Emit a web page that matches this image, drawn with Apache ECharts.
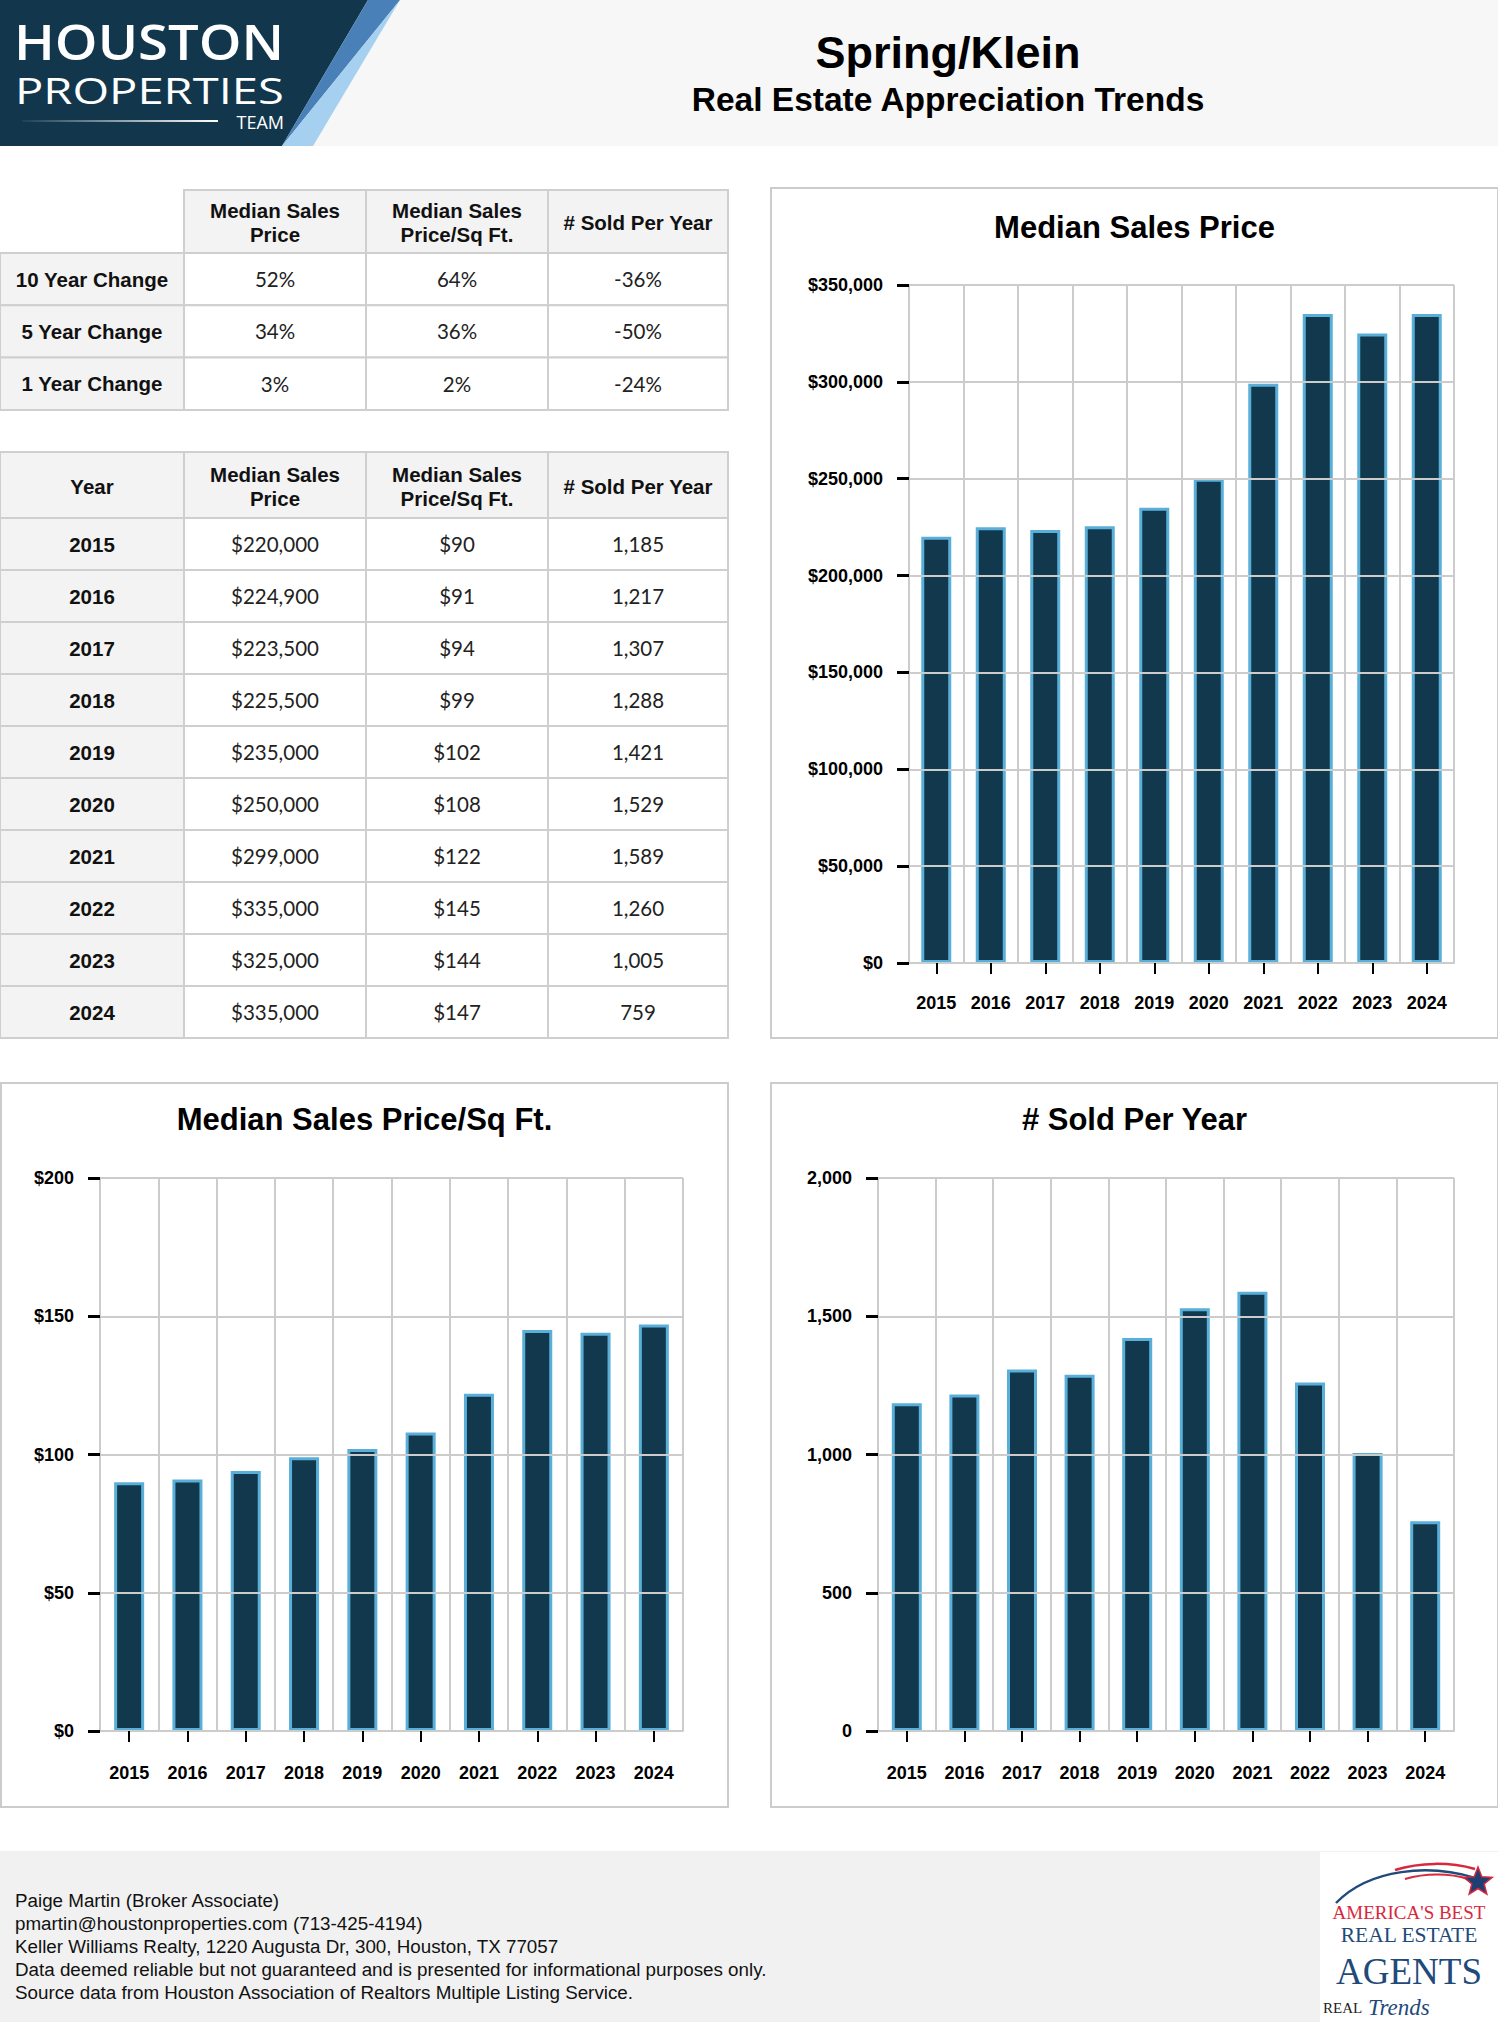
<!DOCTYPE html>
<html>
<head>
<meta charset="utf-8">
<script src="https://cdn.jsdelivr.net/npm/echarts@6/dist/echarts.min.js"></script>
<style>
html,body{margin:0;padding:0;background:#ffffff;}
#main{width:1498px;height:2022px;}
</style>
</head>
<body>
<div id="main"></div>
<script>
// ---------------- DATA ----------------
const years = ['2015','2016','2017','2018','2019','2020','2021','2022','2023','2024'];
const medianPrice = [220000,224900,223500,225500,235000,250000,299000,335000,325000,335000];
const pricePerSqFt = [90,91,94,99,102,108,122,145,144,147];
const soldPerYear = [1185,1217,1307,1288,1421,1529,1589,1260,1005,759];

const changeLabels = ['10 Year Change','5 Year Change','1 Year Change'];
const changeMedianPrice = ['52%','34%','3%'];
const changePricePerSqFt = ['64%','36%','2%'];
const changeSold = ['-36%','-50%','-24%'];

const columnHeaders = ['Median Sales\nPrice','Median Sales\nPrice/Sq Ft.','# Sold Per Year'];
const yearHeader = 'Year';
const chartTitles = ['Median Sales Price','Median Sales Price/Sq Ft.','# Sold Per Year'];

const priceAxis = {min:0, max:350000, interval:50000};
const psfAxis = {min:0, max:200, interval:50};
const soldAxis = {min:0, max:2000, interval:500};

const pageTitle = 'Spring/Klein';
const pageSubtitle = 'Real Estate Appreciation Trends';
const footerLines = [
  'Paige Martin (Broker Associate)',
  'pmartin@houstonproperties.com (713-425-4194)',
  'Keller Williams Realty, 1220 Augusta Dr, 300, Houston, TX 77057',
  'Data deemed reliable but not guaranteed and is presented for informational purposes only.',
  'Source data from Houston Association of Realtors Multiple Listing Service.'
];

// ---------------- HELPERS ----------------
const SANS = '"Liberation Sans", Arial, Helvetica, sans-serif';
const LATO = 'Lato, "Liberation Sans", sans-serif';
const SERIF = '"Liberation Serif", "DejaVu Serif", serif';
const NAVY = '#12384e';
const BARLINE = '#5aafd9';
const GRID = '#cccccc';
const fmtMoney = v => '$' + v.toLocaleString('en-US');
const fmtNum = v => v.toLocaleString('en-US');

const measureCtx = document.createElement('canvas').getContext('2d');
function measure(str, font) { measureCtx.font = font; return measureCtx.measureText(str).width; }

const G = [];
function rect(x, y, w, h, fill, stroke, lw, z) {
  G.push({type:'rect', z: z || 1, shape:{x:x, y:y, width:w, height:h},
    style:{fill: fill, stroke: stroke || null, lineWidth: lw || 0}});
}
function txt(str, x, y, font, fill, align, z, extra, elExtra) {
  G.push(Object.assign({type:'text', z: z || 10, x: x, y: y,
    style: Object.assign({text: str, font: font, fill: fill || '#111',
      textAlign: align || 'center', textVerticalAlign: 'middle',
      align: align || 'center', verticalAlign: 'middle'}, extra || {})}, elExtra || {}));
}
// logo word stretched horizontally to span [x0, x1]
function stretchedWord(word, x0, x1, y, font, fill) {
  const w = measure(word, font) || 1;
  txt(word, x0, y, font, fill, 'left', 5, null, {scaleX: (x1 - x0) / w, scaleY: 1});
}
function poly(points, fill, z) {
  G.push({type:'polygon', z: z || 1, shape:{points: points}, style:{fill: fill}});
}

// ---------------- HEADER ----------------
rect(0, 0, 1498, 146, '#f7f7f7', null, 0, 0);
poly([[0,0],[368,0],[282,146],[0,146]], '#12374c', 2);
poly([[368,0],[400,0],[282,146]], '#4a80b8', 2);
poly([[400,0],[313,146],[282,146]], '#a6d0ef', 2);
stretchedWord('HOUSTON', 14, 284, 41, '600 49px "Open Sans", Lato, sans-serif', '#ffffff');
stretchedWord('PROPERTIES', 15, 284, 90, '400 37px "Open Sans", Lato, sans-serif', '#ffffff');
txt('TEAM', 284, 122, '400 18px "Open Sans", Lato, sans-serif', '#ffffff', 'right', 5);
G.push({type:'rect', z:5, shape:{x:22, y:120, width:196, height:2},
  style:{fill:{type:'linear', x:0, y:0, x2:1, y2:0,
    colorStops:[{offset:0, color:'rgba(255,255,255,0.05)'},{offset:1, color:'rgba(255,255,255,1)'}]}}});
txt(pageTitle, 948, 52, 'bold 45px ' + SANS, '#000');
txt(pageSubtitle, 948, 99, 'bold 33.5px ' + SANS, '#000');

// ---------------- TABLES ----------------
const colX = [0, 184, 366, 548, 728];
const HDR_FONT = 'bold 20.5px ' + SANS;
const VAL_FONT = '20.5px ' + LATO;
const CELL_BG = '#f3f3f3';
const CELL_LINE = '#cfcfcf';

function drawTable(top, headerH, rowH, cornerText, rowLabels, columns) {
  for (let c = 0; c < 4; c++) {
    const x = colX[c], w = colX[c+1] - colX[c];
    if (c === 0 && cornerText === '') continue;
    rect(x, top, w, headerH, CELL_BG, CELL_LINE, 2, 1);
    const t = c === 0 ? cornerText : columnHeaders[c-1];
    txt(t, x + w/2, top + headerH/2 + 1, HDR_FONT, '#111', 'center', 10, {lineHeight: 24});
  }
  for (let r = 0; r < rowLabels.length; r++) {
    const y = top + headerH + r * rowH;
    for (let c = 0; c < 4; c++) {
      const x = colX[c], w = colX[c+1] - colX[c];
      rect(x, y, w, rowH, c === 0 ? CELL_BG : '#ffffff', CELL_LINE, 2, 1);
      if (c === 0) txt(rowLabels[r], x + w/2, y + rowH/2, HDR_FONT, '#111');
      else txt(columns[c-1][r], x + w/2, y + rowH/2, VAL_FONT, '#222');
    }
  }
}
drawTable(190, 63, 52.3, '', changeLabels, [changeMedianPrice, changePricePerSqFt, changeSold]);
drawTable(452, 66, 52, yearHeader, years,
  [medianPrice.map(fmtMoney), pricePerSqFt.map(v => '$' + v), soldPerYear.map(fmtNum)]);

// ---------------- CHART BOXES & TITLES ----------------
const boxes = [[771, 188, 727, 850], [1, 1083, 727, 724], [771, 1083, 727, 724]];
const titleY = [227, 1119, 1119];
boxes.forEach((b, i) => {
  G.push({type:'rect', z:0, shape:{x:b[0], y:b[1], width:b[2], height:b[3]},
    style:{fill:'none', stroke:GRID, lineWidth:2}});
  txt(chartTitles[i], b[0] + b[2]/2, titleY[i], 'bold 31px ' + SANS, '#000');
});

// ---------------- FOOTER ----------------
rect(0, 1851, 1498, 171, '#f1f1f1', null, 0, 0);
footerLines.forEach((l, i) => txt(l, 15, 1900 + i * 23.2, '18.8px ' + SANS, '#111', 'left'));
// award logo
rect(1320, 1852, 178, 170, '#ffffff', null, 0, 1);
G.push({type:'bezierCurve', z:3, shape:{x1:1336, y1:1903, x2:1475, y2:1878, cpx1:1370, cpy1:1868, cpx2:1430, cpy2:1864},
  style:{stroke:'#1f4a7a', lineWidth:2.5, fill:'none'}});
G.push({type:'bezierCurve', z:3, shape:{x1:1395, y1:1870, x2:1475, y2:1869, cpx1:1420, cpy1:1862, cpx2:1450, cpy2:1862},
  style:{stroke:'#d8283d', lineWidth:2.5, fill:'none'}});
G.push({type:'bezierCurve', z:3, shape:{x1:1405, y1:1879, x2:1468, y2:1879, cpx1:1425, cpy1:1873, cpx2:1450, cpy2:1873},
  style:{stroke:'#d8283d', lineWidth:2, fill:'none'}});
(function star(cx, cy, R, r) {
  const pts = [];
  for (let k = 0; k < 10; k++) {
    const a = -Math.PI/2 + k * Math.PI/5, rad = k % 2 ? r : R;
    pts.push([cx + rad * Math.cos(a), cy + rad * Math.sin(a)]);
  }
  G.push({type:'polygon', z:4, shape:{points:pts}, style:{fill:'#1f3f73', stroke:'#d8283d', lineWidth:1.5}});
})(1478, 1882, 15, 6.5);
txt("AMERICA'S BEST", 1409, 1912, '19px ' + SERIF, '#d8283d', 'center', 5);
txt('REAL ESTATE', 1409, 1935, '21.5px ' + SERIF, '#1f4a7a', 'center', 5);
txt('AGENTS', 1409, 1971, '37px ' + SERIF, '#1f4a7a', 'center', 5);
txt('REAL', 1323, 2008, '15px ' + SERIF, '#222', 'left', 5);
txt('Trends', 1368, 2007, 'italic 23px ' + SERIF, '#1f4a7a', 'left', 5);

// ---------------- CHARTS ----------------
const grids = [
  {left:909, top:285, width:545, height:678},
  {left:100, top:1178, width:583, height:553},
  {left:878, top:1178, width:576, height:553}
];
const labelFont = {color:'#000', fontSize:18, fontWeight:'bold', fontFamily:SANS};
function xAx(i, margin) {
  return {type:'category', gridIndex:i, data:years, boundaryGap:true, z:5,
    axisLine:{show:true, lineStyle:{color:GRID, width:2}},
    axisTick:{show:true, alignWithLabel:true, length:11, lineStyle:{color:'#000', width:2}},
    axisLabel:Object.assign({margin:margin, interval:0}, labelFont),
    splitLine:{show:true, interval:0, lineStyle:{color:GRID, width:2}}};
}
function yAx(i, ax, fmt) {
  return {type:'value', gridIndex:i, min:ax.min, max:ax.max, interval:ax.interval, z:5,
    axisLine:{show:true, lineStyle:{color:GRID, width:2}},
    axisTick:{show:true, length:12, lineStyle:{color:'#000', width:3}},
    axisLabel:Object.assign({margin:26, formatter:fmt}, labelFont),
    splitLine:{show:true, lineStyle:{color:GRID, width:2}}};
}
function barSeries(i, data) {
  return {type:'bar', xAxisIndex:i, yAxisIndex:i, data:data, barWidth:30, z:2,
    itemStyle:{color:NAVY, borderColor:BARLINE, borderWidth:3}};
}

const option = {
  animation:false,
  backgroundColor:'#ffffff',
  grid: grids.map(g => Object.assign({show:false}, g)),
  xAxis: [xAx(0, 31), xAx(1, 33), xAx(2, 33)],
  yAxis: [yAx(0, priceAxis, fmtMoney), yAx(1, psfAxis, v => '$' + v), yAx(2, soldAxis, fmtNum)],
  series: [barSeries(0, medianPrice), barSeries(1, pricePerSqFt), barSeries(2, soldPerYear)],
  graphic: {elements: G}
};

const chart = echarts.init(document.getElementById('main'), null, {renderer:'svg', width:1498, height:2022});
chart.setOption(option);
</script>
</body>
</html>
